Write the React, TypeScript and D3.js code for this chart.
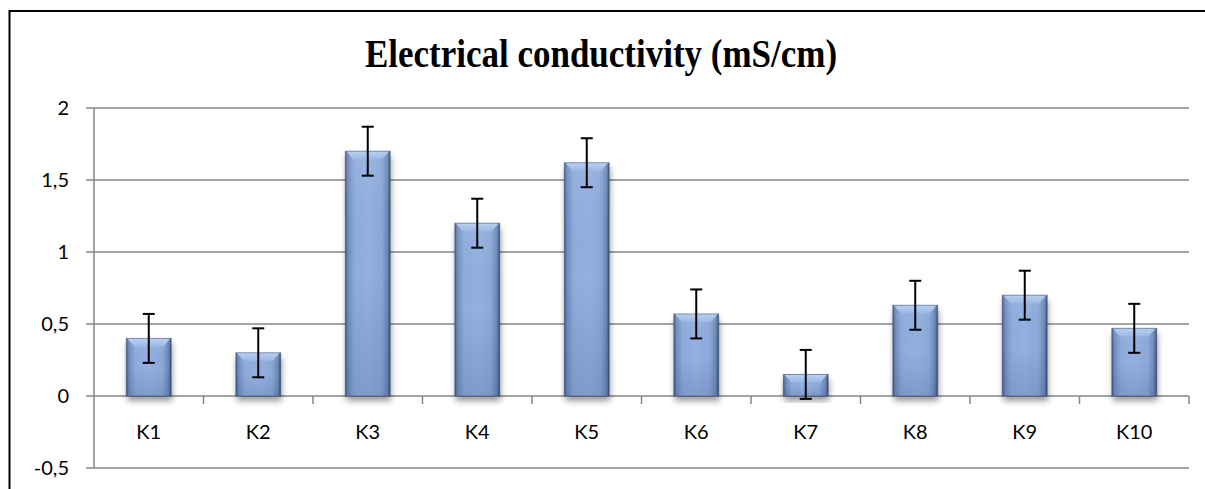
import { useEffect, useRef } from "react";
import * as d3 from "d3";

const categories = ["K1", "K2", "K3", "K4", "K5", "K6", "K7", "K8", "K9", "K10"];
const values = [0.4, 0.3, 1.7, 1.2, 1.62, 0.57, 0.15, 0.63, 0.7, 0.47];
const errors = [0.17, 0.17, 0.17, 0.17, 0.17, 0.17, 0.17, 0.17, 0.17, 0.17];
const yTicks = [-0.5, 0, 0.5, 1, 1.5, 2];
const title = "Electrical conductivity (mS/cm)";

const W = 1205;
const H = 489;

export default function App() {
  const svgRef = useRef<SVGSVGElement>(null);

  useEffect(() => {
    document.body.style.margin = "0";
    document.body.style.overflow = "hidden";
    const svg = d3.select(svgRef.current);
    svg.selectAll("*").remove();

    const left = 94,
      right = 1189,
      top = 108,
      bottom = 468;

    const x = d3.scaleBand<string>().domain(categories).range([left, right]).padding(0);
    const y = d3.scaleLinear().domain([-0.5, 2]).range([bottom, top]);

    const defs = svg.append("defs");
    const hg = defs
      .append("linearGradient")
      .attr("id", "barH")
      .attr("x1", "0")
      .attr("x2", "1")
      .attr("y1", "0")
      .attr("y2", "0");
    [
      [0, "#3f5884"],
      [0.06, "#6f8cbd"],
      [0.2, "#8eabdc"],
      [0.5, "#93b0e0"],
      [0.8, "#8ca9da"],
      [0.94, "#6a86b6"],
      [1, "#33496f"],
    ].forEach(([o, c]) => hg.append("stop").attr("offset", o as number).attr("stop-color", c as string));

    const vg = defs
      .append("linearGradient")
      .attr("id", "barV")
      .attr("x1", "0")
      .attr("x2", "0")
      .attr("y1", "0")
      .attr("y2", "1");
    vg.append("stop").attr("offset", 0).attr("stop-color", "#ffffff").attr("stop-opacity", 0.08);
    vg.append("stop").attr("offset", 0.5).attr("stop-color", "#2a4070").attr("stop-opacity", 0.0);
    vg.append("stop").attr("offset", 1).attr("stop-color", "#2a4070").attr("stop-opacity", 0.18);

    const tg = defs
      .append("linearGradient")
      .attr("id", "barTop")
      .attr("x1", "0")
      .attr("x2", "0")
      .attr("y1", "0")
      .attr("y2", "1");
    tg.append("stop").attr("offset", 0).attr("stop-color", "#b9d0f2");
    tg.append("stop").attr("offset", 1).attr("stop-color", "#9cb8e5");

    const sh = defs
      .append("filter")
      .attr("id", "shadow")
      .attr("x", "-30%")
      .attr("y", "-30%")
      .attr("width", "160%")
      .attr("height", "160%");
    sh.append("feGaussianBlur").attr("in", "SourceAlpha").attr("stdDeviation", 3);
    sh.append("feOffset").attr("dx", 1).attr("dy", 5).attr("result", "off");
    sh.append("feComponentTransfer")
      .append("feFuncA")
      .attr("type", "linear")
      .attr("slope", 0.4);
    const merge = sh.append("feMerge");
    merge.append("feMergeNode");
    merge.append("feMergeNode").attr("in", "SourceGraphic");

    // outer border (only top and left visible in the crop)
    svg
      .append("path")
      .attr("d", `M9.5,${H + 5} L9.5,11 L${W + 5},11`)
      .attr("fill", "none")
      .attr("stroke", "#000")
      .attr("stroke-width", 2);

    // title
    svg
      .append("text")
      .attr("transform", "translate(601,67) scale(1,1.15)")
      .attr("text-anchor", "middle")
      .attr("font-family", "'Liberation Serif', 'Times New Roman', serif")
      .attr("font-weight", "bold")
      .attr("font-size", 35)
      .text(title);

    // gridlines
    svg
      .append("g")
      .selectAll("line")
      .data(yTicks)
      .join("line")
      .attr("x1", left - 8)
      .attr("x2", right)
      .attr("y1", (d) => y(d))
      .attr("y2", (d) => y(d))
      .attr("stroke", "#868686")
      .attr("stroke-width", 1.5);

    // y axis line
    svg
      .append("line")
      .attr("x1", left)
      .attr("x2", left)
      .attr("y1", top)
      .attr("y2", bottom)
      .attr("stroke", "#868686")
      .attr("stroke-width", 1.5);

    // y labels
    svg
      .append("g")
      .selectAll("text")
      .data(yTicks)
      .join("text")
      .attr("x", 69)
      .attr("y", (d) => y(d))
      .attr("dy", "0.36em")
      .attr("text-anchor", "end")
      .attr("font-family", "Lato, 'Open Sans', sans-serif")
      .attr("font-size", 20)
      .attr("fill", "#000")
      .text((d) => String(d).replace(".", ","));

    // x tick marks
    const tickXs = categories.map((c) => (x(c) as number) + x.bandwidth());
    svg
      .append("g")
      .selectAll("line")
      .data(tickXs)
      .join("line")
      .attr("x1", (d) => d)
      .attr("x2", (d) => d)
      .attr("y1", y(0))
      .attr("y2", y(0) + 8)
      .attr("stroke", "#868686")
      .attr("stroke-width", 1.5);

    // x labels
    svg
      .append("g")
      .selectAll("text")
      .data(categories)
      .join("text")
      .attr("x", (d) => (x(d) as number) + x.bandwidth() / 2)
      .attr("y", 432)
      .attr("dy", "0.36em")
      .attr("text-anchor", "middle")
      .attr("font-family", "Lato, 'Open Sans', sans-serif")
      .attr("font-size", 20)
      .attr("fill", "#000")
      .text((d) => d);

    // bars
    const bw = x.bandwidth() * 0.41;
    const bars = svg
      .append("g")
      .selectAll("g")
      .data(categories.map((c, i) => ({ c, v: values[i], e: errors[i] })))
      .join("g");

    bars.each(function (d) {
      const g = d3.select(this);
      const cx = (x(d.c) as number) + x.bandwidth() / 2;
      const x0 = cx - bw / 2;
      const y0 = y(d.v);
      const y1 = y(0);
      const h = y1 - y0;
      const b = Math.min(8, h / 2);
      g.append("rect")
        .attr("x", x0)
        .attr("y", y0)
        .attr("width", bw)
        .attr("height", h)
        .attr("fill", "url(#barH)")
        .attr("filter", "url(#shadow)");
      g.append("rect")
        .attr("x", x0)
        .attr("y", y0)
        .attr("width", bw)
        .attr("height", h)
        .attr("fill", "url(#barV)");
      g.append("polygon")
        .attr(
          "points",
          [
            [x0 + 1, y0],
            [x0 + bw - 1, y0],
            [x0 + bw - b, y0 + b],
            [x0 + b, y0 + b],
          ]
            .map((p) => p.join(","))
            .join(" ")
        )
        .attr("fill", "url(#barTop)");
      g.append("rect")
        .attr("x", x0)
        .attr("y", y0)
        .attr("width", bw)
        .attr("height", h)
        .attr("fill", "none")
        .attr("stroke", "#34496f")
        .attr("stroke-opacity", 0.5)
        .attr("stroke-width", 1);

      // error bar
      const ehi = y(d.v + d.e);
      const elo = y(d.v - d.e);
      const eb = g.append("g").attr("stroke", "#000").attr("stroke-width", 2);
      eb.append("line").attr("x1", cx).attr("x2", cx).attr("y1", ehi).attr("y2", elo);
      eb.append("line").attr("x1", cx - 6).attr("x2", cx + 6).attr("y1", ehi).attr("y2", ehi);
      eb.append("line").attr("x1", cx - 6).attr("x2", cx + 6).attr("y1", elo).attr("y2", elo);
    });
  }, []);

  return (
    <svg
      ref={svgRef}
      width={W}
      height={H}
      style={{ position: "absolute", left: 0, top: 0, background: "white", display: "block" }}
    />
  );
}
